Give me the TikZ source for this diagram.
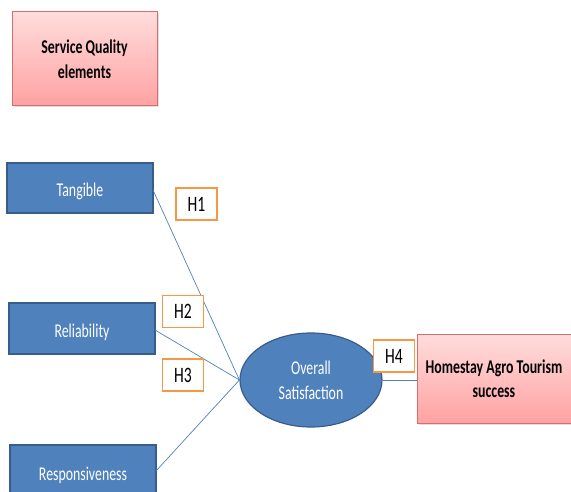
\documentclass[tikz,border=0pt]{standalone}
\usepackage{fontspec}
\setmainfont{Carlito}[FakeStretch=0.71]
\usetikzlibrary{shadows,shapes.geometric}
\begin{document}
\begin{tikzpicture}[x=1pt,y=-1pt,
  bluebox/.style={draw=bborder, line width=1.2pt, fill={rgb,255:red,79;green,129;blue,189},
    inner sep=0pt, minimum width=146pt},
  bluetext/.style={text=white, font=\fontsize{19.5}{22}\selectfont, inner sep=0pt},
  pinkbox/.style={draw={rgb,255:red,214;green,110;blue,110}, line width=1pt,
    top color={rgb,255:red,255;green,220;blue,220}, bottom color={rgb,255:red,255;green,162;blue,162},
    font=\bfseries\fontsize{19.5}{24.5}\selectfont, align=center, inner sep=0pt,
    drop shadow={shadow xshift=1.5pt, shadow yshift=-1.5pt, opacity=0.25}},
  hbox/.style={draw={rgb,255:red,247;green,150;blue,70}, line width=1.6pt, fill=white,
    font=\fontsize{22}{24}\selectfont, inner sep=0pt, minimum width=41pt, minimum height=32pt},
  link/.style={draw={rgb,255:red,79;green,129;blue,189}, line width=0.7pt}
]
\definecolor{bborder}{RGB}{56,93,138}
\useasboundingbox (0,0) rectangle (571,492);

% framework boxes
\node[pinkbox, minimum width=145pt, minimum height=94pt] (sq) at (84.5,59) {Service Quality\\elements};

\node[bluebox, minimum height=50pt,
  label={[bluetext, yshift=-3pt]center:Tangible}] (tan) at (80,188) {};
\node[bluebox, minimum height=51pt,
  label={[bluetext, yshift=-3.5pt]center:Reliability}] (rel) at (82,328.5) {};
\node[bluebox, minimum height=58pt,
  label={[bluetext, yshift=-1pt]center:Responsiveness}] (res) at (83,474) {};

\node[ellipse, draw=bborder, line width=1.2pt, fill={rgb,255:red,79;green,129;blue,189}, text=white,
  font=\fontsize{19.5}{25}\selectfont, align=center, minimum width=142pt, minimum height=94pt, inner sep=0pt]
  (os) at (311,380) {Overall\\Satisfaction};

\node[pinkbox, minimum width=154pt, minimum height=89pt] (hat) at (494,378.5) {Homestay Agro Tourism\\success};

% connectors
\coordinate (tanE) at (153,190);
\coordinate (relE) at (155,330);
\coordinate (resE) at (156,471);
\draw[link] (tanE) -- (os.west);
\draw[link] (relE) -- (os.west);
\draw[link] (resE) -- (os.west);
\draw[link] (os.east) -- (hat.west |- os.east);

% hypothesis labels
\node[hbox] (h1) at (196.5,204) {H1};
\node[hbox] (h2) at (183,311.5) {H2};
\node[hbox] (h3) at (183,375) {H3};
\node[hbox] (h4) at (394,356) {H4};
\end{tikzpicture}
\end{document}
